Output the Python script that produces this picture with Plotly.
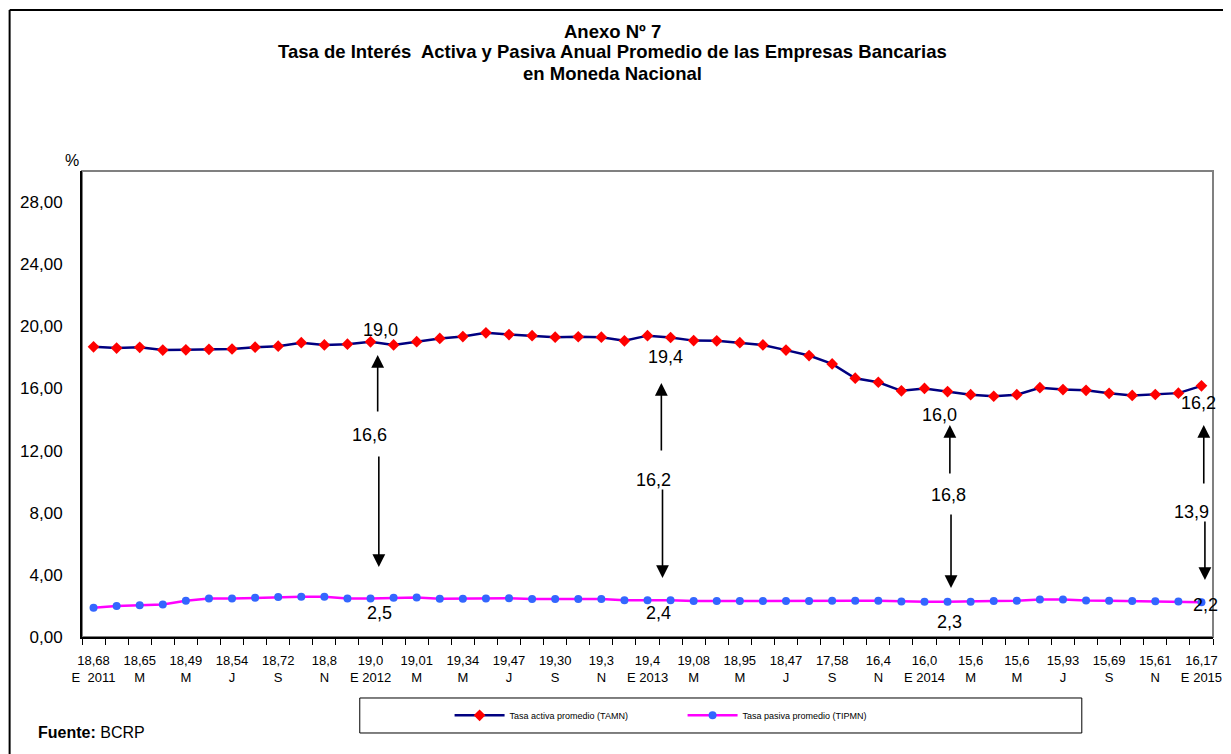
import plotly.graph_objects as go

# ---------------- data ----------------
activa = [18.68, 18.60, 18.65, 18.47, 18.49, 18.52, 18.54, 18.66, 18.72, 18.95,
          18.80, 18.85, 19.00, 18.80, 19.01, 19.22, 19.34, 19.58, 19.47, 19.40,
          19.30, 19.33, 19.30, 19.07, 19.40, 19.28, 19.08, 19.07, 18.95, 18.80,
          18.47, 18.12, 17.58, 16.66, 16.40, 15.85, 16.00, 15.80, 15.60, 15.50,
          15.60, 16.05, 15.93, 15.88, 15.69, 15.55, 15.61, 15.70, 16.17]

pasiva = [1.88, 2.00, 2.05, 2.09, 2.33, 2.48, 2.48, 2.53, 2.57, 2.59,
          2.59, 2.48, 2.48, 2.53, 2.55, 2.46, 2.46, 2.48, 2.50, 2.44,
          2.45, 2.45, 2.44, 2.37, 2.37, 2.37, 2.31, 2.32, 2.32, 2.32,
          2.32, 2.32, 2.33, 2.34, 2.34, 2.29, 2.27, 2.27, 2.27, 2.31,
          2.34, 2.42, 2.41, 2.35, 2.34, 2.32, 2.30, 2.28, 2.24]

tick_values_row = ["18,68", "18,65", "18,49", "18,54", "18,72", "18,8", "19,0", "19,01",
                   "19,34", "19,47", "19,30", "19,3", "19,4", "19,08", "18,95", "18,47",
                   "17,58", "16,4", "16,0", "15,6", "15,6", "15,93", "15,69", "15,61", "16,17"]
tick_month_row = ["E\u00a0 2011", "M", "M", "J", "S", "N", "E 2012", "M", "M", "J", "S", "N",
                  "E 2013", "M", "M", "J", "S", "N", "E 2014", "M", "M", "J", "S", "N", "E 2015"]

y_ticks = [0, 4, 8, 12, 16, 20, 24, 28]
y_ticktext = ["0,00", "4,00", "8,00", "12,00", "16,00", "20,00", "24,00", "28,00"]

title_lines = ["Anexo Nº 7",
               "Tasa de Interés\u00a0 Activa y Pasiva Anual Promedio de las Empresas Bancarias",
               "en Moneda Nacional"]

# labels of highlighted months: (index, activa label, spread label, pasiva label)
highlights = [
    (12, "19,0", "16,6", "2,5"),
    (24, "19,4", "16,2", "2,4"),
    (36, "16,0", "16,8", "2,3"),
    (48, "16,2", "13,9", "2,2"),
]

x = list(range(len(activa)))
FONT = "Liberation Sans Narrow, Arial Narrow, Liberation Sans, Arial, sans-serif"

fig = go.Figure()
fig.add_trace(go.Scatter(
    x=x, y=activa, mode="lines+markers", name="Tasa activa promedio (TAMN)",
    line=dict(color="#000080", width=2.5),
    marker=dict(symbol="diamond", size=9, color="#FF0000"),
))
fig.add_trace(go.Scatter(
    x=x, y=pasiva, mode="lines+markers", name="Tasa pasiva promedio (TIPMN)",
    line=dict(color="#FF00FF", width=2.5),
    marker=dict(symbol="circle", size=8, color="#3366FF"),
))

annotations = []
tweaks = {
    12: dict(tx=0.43, ty=19.76, up=(18.15, 14.42), mx=-0.03, my=13.0, dn=(11.72, 4.51), bx=0.39, by=1.55, ax=0.31),
    24: dict(tx=0.77, ty=18.03, up=(16.35, 11.91), mx=0.26, my=10.11, dn=(9.59, 3.80), bx=0.47, by=1.55, ax=0.6),
    36: dict(tx=0.67, ty=14.29, up=(13.65, 10.43), mx=1.02, my=9.14, dn=(7.98, 3.15), bx=1.1, by=0.97, ax=1.1),
    48: dict(tx=-0.11, ty=15.06, up=(13.65, 9.79), mx=-0.45, my=8.05, dn=(7.53, 3.67), bx=0.19, by=2.06, ax=0.1),
}
for idx, top, mid, bot in highlights:
    t = tweaks[idx]
    f = dict(family=FONT, size=18, color="#000000")
    annotations.append(dict(x=idx + t["tx"], y=t["ty"], xref="x", yref="y", text=top,
                            showarrow=False, font=f))
    annotations.append(dict(x=idx + t["mx"], y=t["my"], xref="x", yref="y", text=mid,
                            showarrow=False, font=f))
    annotations.append(dict(x=idx + t["bx"], y=t["by"], xref="x", yref="y", text=bot,
                            showarrow=False, font=f))
    annotations.append(dict(x=idx + t["ax"], y=t["up"][0], ax=idx + t["ax"], ay=t["up"][1],
                            xref="x", yref="y", axref="x", ayref="y", text="",
                            showarrow=True, arrowhead=2, arrowsize=1.6, arrowwidth=1.6,
                            arrowcolor="#000000"))
    annotations.append(dict(x=idx + t["ax"] + 0.05, y=t["dn"][1], ax=idx + t["ax"] + 0.05, ay=t["dn"][0],
                            xref="x", yref="y", axref="x", ayref="y", text="",
                            showarrow=True, arrowhead=2, arrowsize=1.6, arrowwidth=1.6,
                            arrowcolor="#000000"))

# title (three tightly spaced lines)
for line, yp in zip(title_lines, [1.3004, 1.2554, 1.2103]):
    annotations.append(dict(x=0.4693, y=yp, xref="paper", yref="paper", text=f"<b>{line}</b>",
                            showarrow=False, xanchor="center", yanchor="middle",
                            font=dict(family=FONT, size=18.5, color="#000")))

annotations.append(dict(x=-0.0167, y=1.045, xref="paper", yref="paper", text="%",
                        showarrow=False, font=dict(family=FONT, size=16, color="#000")))
annotations.append(dict(x=-0.0404, y=-0.206, xref="paper", yref="paper", xanchor="left",
                        yanchor="middle", text="<b>Fuente:</b> BCRP", showarrow=False,
                        font=dict(family=FONT, size=16, color="#000")))

shapes = [
    dict(type="line", xref="paper", yref="paper", x0=-0.064, x1=-0.064, y0=1.3455, y1=-0.26,
         line=dict(color="#000", width=2)),
    dict(type="line", xref="paper", yref="paper", x0=-0.064, x1=1.02, y0=1.3455, y1=1.3455,
         line=dict(color="#000", width=2)),
    dict(type="rect", xref="paper", yref="paper", x0=0, x1=1, y0=0, y1=1,
         line=dict(color="#808080", width=2), layer="below"),
    dict(type="rect", xref="paper", yref="paper", x0=0.2456, x1=0.884, y0=-0.1309, y1=-0.206,
         line=dict(color="#000", width=1)),
]

fig.update_layout(
    width=1223, height=746,
    margin=dict(l=74, r=9, t=163, b=117),
    paper_bgcolor="#FFFFFF", plot_bgcolor="#FFFFFF",
    font=dict(family=FONT, color="#000"),
    showlegend=True,
    legend=dict(orientation="h", x=0.325, y=-0.168, xref="paper", yref="paper",
                xanchor="left", yanchor="middle", font=dict(family=FONT, size=9, color="#000"),
                bgcolor="rgba(0,0,0,0)", borderwidth=0, itemwidth=50,
                entrywidth=168, entrywidthmode="pixels"),
    annotations=annotations,
    shapes=shapes,
)

fig.update_xaxes(
    range=[-0.5, len(activa) - 0.5],
    tickmode="array",
    tickvals=x[::2],
    ticktext=[f"{a}<br>{b}" for a, b in zip(tick_values_row, tick_month_row)],
    ticks="", tickfont=dict(family=FONT, size=13, color="#000"),
    ticklabelstandoff=10,
    minor=dict(tickmode="linear", tick0=-0.5, dtick=1, ticks="outside", ticklen=6,
               tickcolor="#000", tickwidth=1, showgrid=False),
    showline=True, linecolor="#000", linewidth=2, showgrid=False, zeroline=False,
)
fig.update_yaxes(
    range=[0, 30],
    tickmode="array", tickvals=y_ticks, ticktext=y_ticktext,
    ticks="", tickfont=dict(family=FONT, size=17, color="#000"),
    ticklabelstandoff=14,
    showline=True, linecolor="#000", linewidth=2, showgrid=False, zeroline=False,
)

fig.write_html("out.html")
